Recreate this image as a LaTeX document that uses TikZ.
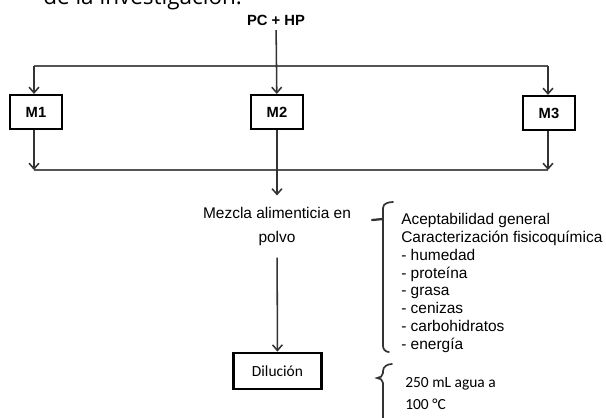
\documentclass[tikz,border=0pt]{standalone}
\usepackage{fontspec}
\setmainfont{Liberation Sans}
\newfontfamily\calibri{Carlito}
\newfontfamily\opensans{Open Sans}
\usetikzlibrary{arrows.meta,positioning}
\definecolor{ink}{HTML}{333333}
\definecolor{rule}{HTML}{555555}

\begin{document}
\begin{tikzpicture}[x=0.025cm,y=-0.025cm,
  flow/.style={draw=ink,line width=1.1pt},
  arr/.style={flow,-{Straight Barb[length=4pt,width=7pt]}},
  mbox/.style={draw=black,line width=1.5pt,minimum width=1.3cm,minimum height=0.85cm,inner sep=0pt,font=\bfseries\fontsize{10.5}{12}\selectfont},
  brace/.style={draw=ink,line width=1.2pt,line cap=round}]
  \useasboundingbox (0,0) rectangle (606,417);
  % cut-off heading of the page
  \node[anchor=base west,inner sep=0pt,font=\opensans\fontsize{16}{19}\selectfont] (head) at (43,4) {de la investigación.};
  \node[font=\bfseries\fontsize{10.5}{12}\selectfont] (pc) at (276,20) {PC + HP};
  \node[mbox] (m1) at (36,112) {M1};
  \node[mbox] (m2) at (277,112) {M2};
  \node[mbox] (m3) at (549,113) {M3};
  \coordinate (topL) at (34,66);
  \coordinate (topR) at (548,66);
  \coordinate (botL) at (34,170);
  \coordinate (botR) at (548,170);
  \draw[flow,draw=rule,line width=1.6pt] (topL) -- (topR);
  \draw[flow,draw=rule,line width=1.6pt] (botL) -- (botR);
  \draw[arr] (pc) -- (m2);
  \draw[arr] (topL) -- (m1.north -| topL);
  \draw[arr] (topR) -- (m3.north -| topR);
  \draw[arr] (m1.south -| botL) -- (botL);
  \draw[arr] (m3.south -| botR) -- (botR);
  \node[align=center,inner xsep=0pt,inner ysep=3mm,font=\fontsize{11}{16.4}\selectfont] (mezcla) at (277,226.5) {Mezcla alimenticia en\\polvo};
  \draw[arr] (m2) -- (mezcla);
  \node[draw=black,line width=2pt,minimum width=2.2cm,minimum height=0.9cm,font=\calibri\fontsize{11}{13}\selectfont] (dil) at (277.5,371) {Dilución};
  \draw[arr] (mezcla) -- (dil);
  % analyses
  \draw[brace] (393,202) to[out=180,in=90] (383,208) -- (383,346) to[out=-90,in=180] (389,352);
  \draw[brace,line width=1.6pt] (372,220) -- (383,219);
  \node[anchor=north west,inner sep=0pt,align=left,font=\fontsize{11}{12.7}\selectfont] (analisis) at (401,213) {Aceptabilidad general\\Caracterización fisicoquímica\\- humedad\\- proteína\\- grasa\\- cenizas\\- carbohidratos\\- energía};
  \draw[brace] (392,364) to[out=180,in=90] (383,371) -- (383,373) to[out=-90,in=0] (377,378) to[out=0,in=90] (383,383) -- (383,425);
  \node[anchor=north west,inner sep=0pt,align=left,font=\calibri\fontsize{11}{15.6}\selectfont] (agua) at (405,377) {250 mL agua a\\100 °C};
\end{tikzpicture}
\end{document}
